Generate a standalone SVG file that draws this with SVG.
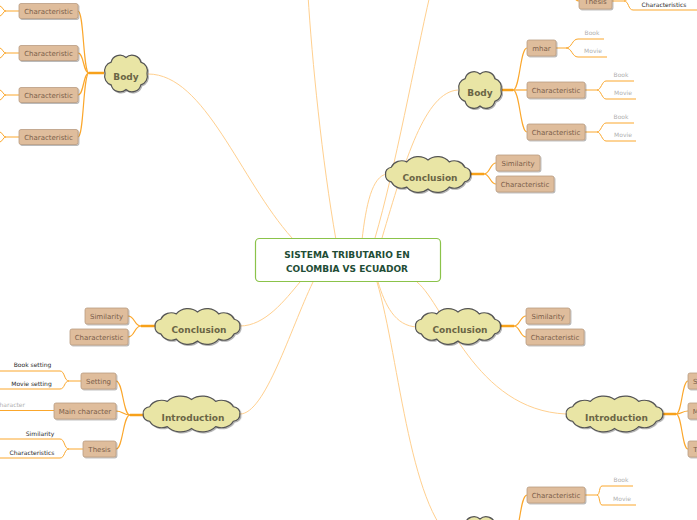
<svg xmlns="http://www.w3.org/2000/svg" width="697" height="520" viewBox="0 0 697 520">
<style>
  .main{fill:none;stroke:#ffd08f;stroke-width:1}
  .stub{fill:none;stroke:#f7a11a;stroke-width:2.5}
  .br{fill:none;stroke:#fba72c;stroke-width:1.2}
  .lf{fill:none;stroke:#fba72c;stroke-width:1}
  .cloud{fill:#e9e5a5;stroke:#555;stroke-width:1.2;filter:url(#sh)}
  .ct{font-family:"DejaVu Sans",Verdana,sans-serif;font-size:9px;font-weight:bold;fill:#6b6545;text-anchor:middle}
  .box{fill:#dfbd9c;stroke:#b99c82;stroke-width:0.8;filter:url(#sh)}
  .bt{font-family:"DejaVu Sans",Verdana,sans-serif;font-size:7px;fill:#7b5e4a;text-anchor:middle}
  .lg{font-family:"DejaVu Sans",Verdana,sans-serif;font-size:6px;fill:#b0b0b0;text-anchor:middle}
  .ld{font-family:"DejaVu Sans",Verdana,sans-serif;font-size:6px;fill:#2a2a2a;text-anchor:middle}
  .center{fill:#fff;stroke:#8bc34a;stroke-width:1.2}
  .cen{font-family:"DejaVu Sans",Verdana,sans-serif;font-size:9px;font-weight:bold;fill:#1f4d36;text-anchor:middle}
</style>
<defs>
  <filter id="sh" x="-20%" y="-30%" width="140%" height="170%">
    <feDropShadow dx="1" dy="1" stdDeviation="0.6" flood-color="#000" flood-opacity="0.3"/>
  </filter>
</defs>

<g id="connectors">
  <path class="main" d="M148,74 C205,74 240,180 292,238"/>
  <path class="main" d="M336,240 C322,160 312,60 308,-5"/>
  <path class="main" d="M375,238 C395,170 415,60 430,-5"/>
  <path class="main" d="M458,90 C425,92 405,160 382,238"/>
  <path class="main" d="M387,174 C372,176 366,205 362,240"/>
  <path class="main" d="M240,326 C265,326 285,300 300,282"/>
  <path class="main" d="M240,414 C265,414 290,330 313,282"/>
  <path class="main" d="M378,282 C385,305 395,326 417,327"/>
  <path class="main" d="M417,282 C445,305 475,410 566,414"/>
  <path class="main" d="M377,282 C400,360 410,520 460,545"/>

  <path class="stub" d="M104,73 H89"/>
  <path class="stub" d="M502,90 H513"/>
  <path class="stub" d="M470,174 H484"/>
  <path class="stub" d="M155,326 H141"/>
  <path class="stub" d="M143,415 H130"/>
  <path class="stub" d="M500,326 H514"/>
  <path class="stub" d="M663,414 H676"/>
  <path class="stub" d="M502,534 H514"/>

  <path class="br" d="M89,73 C83,73 84,11 78,11"/>
  <path class="br" d="M89,73 C83,73 84,53 78,53"/>
  <path class="br" d="M89,73 C83,73 84,95 78,95"/>
  <path class="br" d="M89,73 C83,73 84,137 78,137"/>
  <path class="br" d="M513,90 C520,90 520,48 527,48"/>
  <path class="br" d="M513,90 H527"/>
  <path class="br" d="M513,90 C520,90 520,132 527,132"/>
  <path class="br" d="M484,174 C490,174 490,163 496,163"/>
  <path class="br" d="M484,174 C490,174 490,184 496,184"/>
  <path class="br" d="M141,326 C134,326 135,316 128,316"/>
  <path class="br" d="M141,326 C134,326 135,337 128,337"/>
  <path class="br" d="M130,415 C123,415 123,381 116,381"/>
  <path class="br" d="M130,415 C123,415 123,411 116,411"/>
  <path class="br" d="M130,415 C123,415 123,449 116,449"/>
  <path class="br" d="M514,326 C520,326 520,316 526,316"/>
  <path class="br" d="M514,326 C520,326 520,337 526,337"/>
  <path class="br" d="M676,414 C682,414 682,381 688,381"/>
  <path class="br" d="M676,414 C682,414 682,411 688,411"/>
  <path class="br" d="M676,414 C682,414 682,449 688,449"/>
  <path class="br" d="M514,534 C520,534 520,495 527,495"/>
  <path class="br" d="M579,1 C574,1 574,-6 570,-12"/>

  <path class="lf" d="M19,11 H6 M6,11 C3,11 3,7 0,6 M6,11 C3,11 3,15 0,16"/>
  <path class="lf" d="M19,53 H6 M6,53 C3,53 3,49 0,48 M6,53 C3,53 3,57 0,58"/>
  <path class="lf" d="M19,95 H6 M6,95 C3,95 3,91 0,90 M6,95 C3,95 3,99 0,100"/>
  <path class="lf" d="M19,137 H6 M6,137 C3,137 3,133 0,132 M6,137 C3,137 3,141 0,142"/>
  <path class="lf" d="M556,48 H566 M566,48 C572,48 572,39 578,39 H604 M566,48 C572,48 572,57 578,57 H607"/>
  <path class="lf" d="M585,90 H597 M597,90 C601,90 602,81 606,81 H634 M597,90 C601,90 602,99 606,99 H636"/>
  <path class="lf" d="M585,132 H597 M597,132 C601,132 602,123 606,123 H634 M597,132 C601,132 602,141 606,141 H636"/>
  <path class="lf" d="M585,495 H597 M597,495 C600,495 599,486 602,486 H633 M597,495 C600,495 599,505 602,505 H636"/>
  <path class="lf" d="M81,381 H69 M69,381 C64,381 65,371 60,371 H0 M69,381 C64,381 65,389 60,389 H0"/>
  <path class="lf" d="M54,410.5 H0"/>
  <path class="lf" d="M83,449 H69 M69,449 C64,449 65,439 60,439 H0 M69,449 C64,449 65,458 60,458 H0"/>
  <path class="lf" d="M612,1 H624 M624,1 C629,1 628,10 633,10 H697 M624,1 C629,1 628,-8 633,-8 H697"/>
</g>

<g id="central">
  <rect class="center" x="255.5" y="238.5" width="185" height="43" rx="4"/>
  <text class="cen" x="347" y="257.5">SISTEMA TRIBUTARIO EN</text>
  <text class="cen" x="347" y="271.5">COLOMBIA VS ECUADOR</text>
</g>

<g id="body-left">
  <path class="cloud" transform="translate(126,73.5)" d="M21,0 A9,9 0 0 1 14.85,11.31 A9,9 0 0 1 0,16 A9,9 0 0 1 -14.85,11.31 A9,9 0 0 1 -21,0 A9,9 0 0 1 -14.85,-11.31 A9,9 0 0 1 0,-16 A9,9 0 0 1 14.85,-11.31 A9,9 0 0 1 21,0 Z"/>
  <text class="ct" x="126" y="79.5">Body</text>
</g>
<g id="bl-char1"><rect class="box" x="19" y="3.5" width="59" height="15" rx="2"/><text class="bt" x="48.5" y="13.5">Characteristic</text></g>
<g id="bl-char2"><rect class="box" x="19" y="45.5" width="59" height="15" rx="2"/><text class="bt" x="48.5" y="55.5">Characteristic</text></g>
<g id="bl-char3"><rect class="box" x="19" y="87.5" width="59" height="15" rx="2"/><text class="bt" x="48.5" y="97.5">Characteristic</text></g>
<g id="bl-char4"><rect class="box" x="19" y="129.5" width="59" height="15" rx="2"/><text class="bt" x="48.5" y="139.5">Characteristic</text></g>

<g id="body-right">
  <path class="cloud" transform="translate(480,90)" d="M21,0 A9,9 0 0 1 14.85,11.31 A9,9 0 0 1 0,16 A9,9 0 0 1 -14.85,11.31 A9,9 0 0 1 -21,0 A9,9 0 0 1 -14.85,-11.31 A9,9 0 0 1 0,-16 A9,9 0 0 1 14.85,-11.31 A9,9 0 0 1 21,0 Z"/>
  <text class="ct" x="480" y="96">Body</text>
</g>
<g id="br-mhar"><rect class="box" x="527" y="40" width="29" height="16" rx="2"/><text class="bt" x="541.5" y="50.5">mhar</text>
  <text class="lg" x="592" y="35">Book</text><text class="lg" x="593" y="53">Movie</text></g>
<g id="br-char2"><rect class="box" x="527" y="82" width="58" height="16" rx="2"/><text class="bt" x="556" y="92.5">Characteristic</text>
  <text class="lg" x="621" y="77">Book</text><text class="lg" x="623" y="95">Movie</text></g>
<g id="br-char3"><rect class="box" x="527" y="124" width="58" height="16" rx="2"/><text class="bt" x="556" y="134.5">Characteristic</text>
  <text class="lg" x="621" y="119">Book</text><text class="lg" x="623" y="137">Movie</text></g>

<g id="top-thesis"><rect class="box" x="579" y="-7" width="33" height="16" rx="2"/><text class="bt" x="595.5" y="3.5">Thesis</text>
  <text class="ld" x="664" y="6.5">Characteristics</text></g>

<g id="conclusion-upper">
  <path class="cloud" transform="translate(428,174.5) scale(1.01,0.97)" vector-effect="non-scaling-stroke" d="M42,0 A6.6,6.6 0 0 1 36.37,7.5 A11.4,11.4 0 0 1 21,12.99 A14.8,14.8 0 0 1 0,15 A14.8,14.8 0 0 1 -21,12.99 A11.4,11.4 0 0 1 -36.37,7.5 A6.6,6.6 0 0 1 -42,0 A6.6,6.6 0 0 1 -36.37,-7.5 A11.4,11.4 0 0 1 -21,-12.99 A14.8,14.8 0 0 1 0,-15 A14.8,14.8 0 0 1 21,-12.99 A11.4,11.4 0 0 1 36.37,-7.5 A6.6,6.6 0 0 1 42,0 Z"/>
  <text class="ct" x="430" y="180.5">Conclusion</text>
</g>
<g id="cu-sim"><rect class="box" x="496" y="155" width="44" height="16" rx="2"/><text class="bt" x="518" y="165.5">Similarity</text></g>
<g id="cu-char"><rect class="box" x="496" y="176" width="58" height="16" rx="2"/><text class="bt" x="525" y="186.5">Characteristic</text></g>

<g id="conclusion-left">
  <path class="cloud" transform="translate(197.5,326.5) scale(1.01,0.97)" vector-effect="non-scaling-stroke" d="M42,0 A6.6,6.6 0 0 1 36.37,7.5 A11.4,11.4 0 0 1 21,12.99 A14.8,14.8 0 0 1 0,15 A14.8,14.8 0 0 1 -21,12.99 A11.4,11.4 0 0 1 -36.37,7.5 A6.6,6.6 0 0 1 -42,0 A6.6,6.6 0 0 1 -36.37,-7.5 A11.4,11.4 0 0 1 -21,-12.99 A14.8,14.8 0 0 1 0,-15 A14.8,14.8 0 0 1 21,-12.99 A11.4,11.4 0 0 1 36.37,-7.5 A6.6,6.6 0 0 1 42,0 Z"/>
  <text class="ct" x="199" y="333">Conclusion</text>
</g>
<g id="cl-sim"><rect class="box" x="85" y="308" width="43" height="16" rx="2"/><text class="bt" x="106.5" y="318.5">Similarity</text></g>
<g id="cl-char"><rect class="box" x="70" y="329" width="58" height="16" rx="2"/><text class="bt" x="99" y="339.5">Characteristic</text></g>

<g id="intro-left">
  <path class="cloud" transform="translate(191.5,414) scale(1.15,0.97)" vector-effect="non-scaling-stroke" d="M42,0 A6.6,6.6 0 0 1 36.37,7.5 A11.4,11.4 0 0 1 21,12.99 A14.8,14.8 0 0 1 0,15 A14.8,14.8 0 0 1 -21,12.99 A11.4,11.4 0 0 1 -36.37,7.5 A6.6,6.6 0 0 1 -42,0 A6.6,6.6 0 0 1 -36.37,-7.5 A11.4,11.4 0 0 1 -21,-12.99 A14.8,14.8 0 0 1 0,-15 A14.8,14.8 0 0 1 21,-12.99 A11.4,11.4 0 0 1 36.37,-7.5 A6.6,6.6 0 0 1 42,0 Z"/>
  <text class="ct" x="193" y="421">Introduction</text>
</g>
<g id="il-setting"><rect class="box" x="81" y="373" width="35" height="16" rx="2"/><text class="bt" x="98.5" y="383.5">Setting</text>
  <text class="ld" x="32.5" y="367">Book setting</text><text class="ld" x="31.5" y="385.5">Movie setting</text></g>
<g id="il-main"><rect class="box" x="54" y="403" width="62" height="16" rx="2"/><text class="bt" x="85" y="413.5">Main character</text>
  <text class="lg" x="25" y="407" style="text-anchor:end">Character</text></g>
<g id="il-thesis"><rect class="box" x="83" y="441" width="33" height="16" rx="2"/><text class="bt" x="99.5" y="451.5">Thesis</text>
  <text class="ld" x="40" y="435.5">Similarity</text><text class="ld" x="32" y="454.5">Characteristics</text></g>

<g id="conclusion-right">
  <path class="cloud" transform="translate(458,326.5) scale(1.01,0.97)" vector-effect="non-scaling-stroke" d="M42,0 A6.6,6.6 0 0 1 36.37,7.5 A11.4,11.4 0 0 1 21,12.99 A14.8,14.8 0 0 1 0,15 A14.8,14.8 0 0 1 -21,12.99 A11.4,11.4 0 0 1 -36.37,7.5 A6.6,6.6 0 0 1 -42,0 A6.6,6.6 0 0 1 -36.37,-7.5 A11.4,11.4 0 0 1 -21,-12.99 A14.8,14.8 0 0 1 0,-15 A14.8,14.8 0 0 1 21,-12.99 A11.4,11.4 0 0 1 36.37,-7.5 A6.6,6.6 0 0 1 42,0 Z"/>
  <text class="ct" x="460" y="333">Conclusion</text>
</g>
<g id="cr-sim"><rect class="box" x="526" y="308" width="44" height="16" rx="2"/><text class="bt" x="548" y="318.5">Similarity</text></g>
<g id="cr-char"><rect class="box" x="526" y="329" width="58" height="16" rx="2"/><text class="bt" x="555" y="339.5">Characteristic</text></g>

<g id="intro-right">
  <path class="cloud" transform="translate(614.5,414) scale(1.15,0.97)" vector-effect="non-scaling-stroke" d="M42,0 A6.6,6.6 0 0 1 36.37,7.5 A11.4,11.4 0 0 1 21,12.99 A14.8,14.8 0 0 1 0,15 A14.8,14.8 0 0 1 -21,12.99 A11.4,11.4 0 0 1 -36.37,7.5 A6.6,6.6 0 0 1 -42,0 A6.6,6.6 0 0 1 -36.37,-7.5 A11.4,11.4 0 0 1 -21,-12.99 A14.8,14.8 0 0 1 0,-15 A14.8,14.8 0 0 1 21,-12.99 A11.4,11.4 0 0 1 36.37,-7.5 A6.6,6.6 0 0 1 42,0 Z"/>
  <text class="ct" x="616.5" y="421">Introduction</text>
</g>
<g id="ir-setting"><rect class="box" x="688" y="373" width="35" height="16" rx="2"/><text class="bt" x="705.5" y="383.5">Setting</text></g>
<g id="ir-main"><rect class="box" x="688" y="403" width="62" height="16" rx="2"/><text class="bt" x="719" y="413.5">Main character</text></g>
<g id="ir-thesis"><rect class="box" x="688" y="441" width="33" height="16" rx="2"/><text class="bt" x="704.5" y="451.5">Thesis</text></g>

<g id="body-bottom">
  <path class="cloud" transform="translate(480,535)" d="M21,0 A9,9 0 0 1 14.85,11.31 A9,9 0 0 1 0,16 A9,9 0 0 1 -14.85,11.31 A9,9 0 0 1 -21,0 A9,9 0 0 1 -14.85,-11.31 A9,9 0 0 1 0,-16 A9,9 0 0 1 14.85,-11.31 A9,9 0 0 1 21,0 Z"/>
</g>
<g id="bb-char"><rect class="box" x="527" y="487" width="58" height="16" rx="2"/><text class="bt" x="556" y="497.5">Characteristic</text>
  <text class="lg" x="621" y="482">Book</text><text class="lg" x="622" y="501">Movie</text></g>
</svg>
